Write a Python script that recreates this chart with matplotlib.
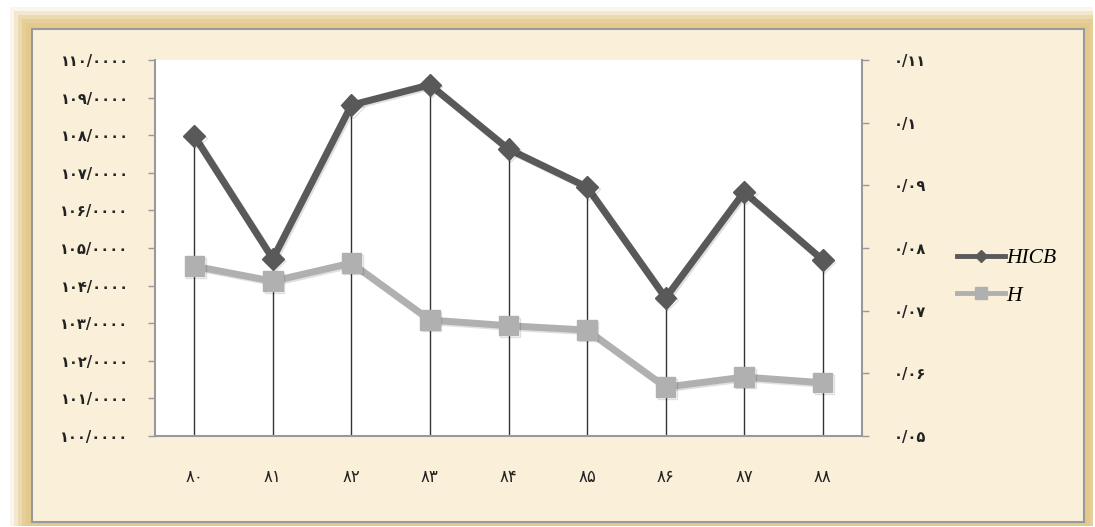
import numpy as np
import matplotlib.pyplot as plt
from matplotlib.patches import Rectangle
from matplotlib.lines import Line2D
import matplotlib.patheffects as pe

years = ['۸۰', '۸۱', '۸۲', '۸۳', '۸۴', '۸۵', '۸۶', '۸۷', '۸۸']
hicb = [107.98, 104.71, 108.80, 109.34, 107.63, 106.62, 103.67, 106.49, 104.68]
h = [0.0771, 0.0747, 0.0776, 0.0685, 0.0676, 0.0669, 0.0578, 0.0594, 0.0585]

left_ticks = [100, 101, 102, 103, 104, 105, 106, 107, 108, 109, 110]
left_labels = ['۱۰۰/۰۰۰۰', '۱۰۱/۰۰۰۰', '۱۰۲/۰۰۰۰', '۱۰۳/۰۰۰۰', '۱۰۴/۰۰۰۰',
               '۱۰۵/۰۰۰۰', '۱۰۶/۰۰۰۰', '۱۰۷/۰۰۰۰', '۱۰۸/۰۰۰۰', '۱۰۹/۰۰۰۰',
               '۱۱۰/۰۰۰۰']
right_ticks = [0.05, 0.06, 0.07, 0.08, 0.09, 0.10, 0.11]
right_labels = ['۰/۰۵', '۰/۰۶', '۰/۰۷', '۰/۰۸', '۰/۰۹', '۰/۱', '۰/۱۱']

dark = '#595959'
light = '#b0b0b0'
paper = '#faf0da'
gold = '#e3c98c'

plt.rcParams['font.family'] = ['DejaVu Sans']

fig = plt.figure(figsize=(10.95, 5.27), dpi=100)
fig.patch.set_facecolor('white')

W, H = 1095, 527
def frect(x0, y0, x1, y1, **kw):
    r = Rectangle((x0 / W, 1 - y1 / H), (x1 - x0) / W, (y1 - y0) / H,
                  transform=fig.transFigure, zorder=-10, **kw)
    fig.patches.append(r)

# soft golden frame
for k, a in enumerate([0.15, 0.3, 0.45, 0.65, 0.85]):
    d = 22 - k * 4
    frect(32 - d, 29 - d, 1084 + min(d, 9), 522 + min(d, 4), facecolor=gold,
          edgecolor='none', alpha=a)
frect(32, 29, 1084, 522, facecolor=paper, edgecolor='#9a9a9a', linewidth=1.5)

ax = fig.add_axes([155 / W, 1 - 436 / H, (862 - 155) / W, (436 - 60) / H])
ax.set_facecolor('white')
x = np.arange(len(years))

ax.vlines(x, 100, hicb, colors='#333333', linewidth=1.0, zorder=1)
shadow = [pe.SimpleLineShadow(offset=(1.2, -1.2), shadow_color='#000000',
                              alpha=0.12), pe.Normal()]
ax.plot(x, hicb, color=dark, linewidth=5, marker='D', markersize=11,
        zorder=3, path_effects=shadow)

ax.set_xlim(-0.5, len(years) - 0.5)
ax.set_ylim(100, 110)
ax.set_yticks(left_ticks)
ax.set_yticklabels(left_labels, fontweight='bold')
ax.set_xticks(x)
ax.set_xticklabels(years)
ax.tick_params(axis='y', length=5, width=1, color='#999999', pad=14,
               labelsize=10.5, labelcolor='#222222')
ax.tick_params(axis='x', length=0, pad=23, labelsize=12,
               labelcolor='#222222')
for s in ['top', 'right']:
    ax.spines[s].set_visible(False)
for s in ['left', 'bottom']:
    ax.spines[s].set_color('#999999')
    ax.spines[s].set_linewidth(1.5)

ax2 = ax.twinx()
ax2.plot(x, h, color=light, linewidth=5, marker='s', markersize=14,
         zorder=3, path_effects=shadow)
ax2.set_ylim(0.05, 0.11)
ax2.set_yticks(right_ticks)
ax2.set_yticklabels(right_labels, fontweight='bold')
ax2.tick_params(axis='y', length=5, width=1, color='#999999', pad=18,
                labelsize=10.5, labelcolor='#222222')
for s in ['top', 'left', 'bottom']:
    ax2.spines[s].set_visible(False)
ax2.spines['right'].set_color('#999999')
ax2.spines['right'].set_linewidth(1.5)

handles = [Line2D([], [], color=dark, linewidth=3.5, marker='D', markersize=6),
           Line2D([], [], color=light, linewidth=3.5, marker='s', markersize=9)]
fig.legend(handles, ['HICB', 'H'], loc='center left',
           bbox_to_anchor=(938 / W, 1 - 277 / H), frameon=False,
           handlelength=2.2, handletextpad=0.05, labelspacing=0.8,
           prop={'family': 'Liberation Serif', 'style': 'italic', 'size': 15.5})

fig.savefig('out.png', dpi=100, facecolor=fig.get_facecolor())
